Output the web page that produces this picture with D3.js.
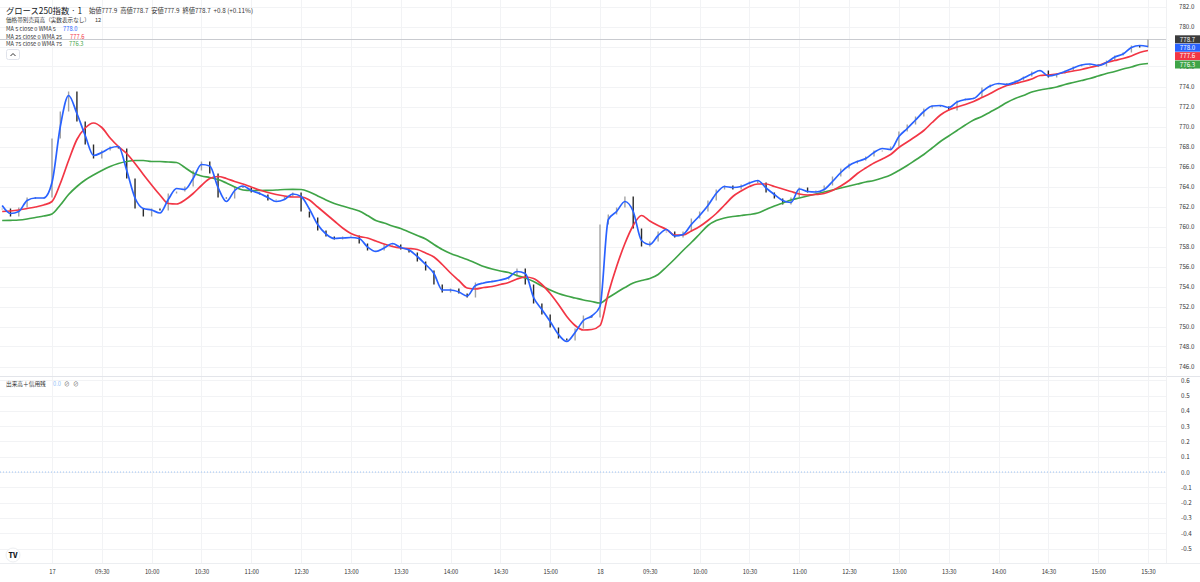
<!DOCTYPE html>
<html>
<head>
<meta charset="utf-8">
<script src="https://cdn.jsdelivr.net/npm/d3@7"></script>
<style>
body { margin: 0; background: #fff; }
svg text { font-family: "Noto Sans CJK JP", "Noto Sans", sans-serif; }
</style>
</head>
<body>
<div id="chart"></div>
<script>
// 5分ごとに読み取った値（0本目 = 前日15:00）
var barStep = 5;

var closes = [
  761.8, 761.0, 761.9, 762.9, 762.8, 762.9, 768.8, 771.5, 773.5, 770.5,
  768.2, 766.8, 767.6, 768.0, 767.8, 764.8, 761.8, 761.0, 761.8, 761.6,
  763.3, 763.5, 764.0, 765.6, 766.5, 765.3, 762.9, 762.8, 764.0, 763.9,
  763.4, 763.2, 762.6, 762.7, 763.0, 763.4, 761.5, 760.9, 759.6, 759.0,
  758.7, 759.0, 759.1, 758.3, 757.6, 757.6, 758.2, 758.2, 757.7, 757.4,
  756.5, 755.6, 754.2, 753.4, 753.8, 753.3, 752.9, 754.4, 754.4, 754.6,
  754.7, 755.0, 755.8, 754.2, 752.3, 751.2, 749.9, 748.8, 748.6, 749.8,
  751.1, 750.9, 760.2, 761.2, 761.9, 763.0, 759.8, 758.0, 758.5, 759.5,
  759.5, 758.9, 759.5, 760.8, 761.5, 762.6, 763.7, 764.1, 763.7, 764.2,
  764.5, 764.4, 763.4, 762.8, 762.2, 762.9, 763.9, 763.4, 763.6, 764.1,
  765.0, 765.8, 766.3, 766.6, 767.0, 767.6, 767.6, 768.0, 769.5, 770.2,
  771.0, 771.8, 772.1, 772.0, 771.6, 772.6, 772.8, 772.9, 773.9, 774.2,
  774.3, 774.2, 774.6, 775.0, 775.5, 775.6, 774.9, 775.3, 775.6, 776.0,
  776.2, 776.2, 776.0, 776.6, 777.1, 777.4, 778.1, 777.9, 778.7
];

var ma5 = [
  762.1, 761.3, 761.5, 762.6, 762.85, 762.85, 764.4, 770.0, 773.1, 771.3,
  769.1, 767.1, 767.4, 767.85, 768.0, 765.6, 762.85, 761.8, 761.65, 761.35,
  762.7, 763.8, 763.7, 764.8, 766.2, 766.05, 763.9, 762.5, 763.6, 764.05,
  763.6, 763.3, 762.9, 762.5, 762.7, 763.25, 763.0, 761.75, 760.2, 759.25,
  758.8, 758.85, 758.9, 758.8, 757.95, 757.5, 757.85, 758.3, 757.9, 757.65,
  757.0, 756.2, 755.3, 753.65, 753.65, 753.45, 753.05, 754.1, 754.35, 754.5,
  754.65, 754.9, 755.5, 755.3, 752.9, 751.7, 750.5, 749.2, 748.5, 749.4,
  750.6, 751.05, 752.0, 760.7, 761.5, 762.5, 761.5, 758.6, 758.2, 759.1,
  759.7, 759.05, 759.2, 760.2, 761.1, 762.1, 763.3, 764.0, 763.9, 764.0,
  764.35, 764.6, 763.85, 763.2, 762.6, 762.4, 763.75, 763.5, 763.45, 763.7,
  764.5, 765.4, 766.1, 766.5, 766.8, 767.4, 767.8, 767.7, 769.0, 769.8,
  770.65, 771.5, 772.05, 772.1, 771.9, 772.45, 772.7, 772.8, 773.5, 774.05,
  774.3, 774.2, 774.45, 774.85, 775.25, 775.6, 775.05, 775.2, 775.5, 775.85,
  776.15, 776.25, 776.1, 776.4, 776.95, 777.25, 777.9, 778.1, 778.0
];

var ma25 = [
  761.5, 761.55, 761.65, 761.8, 761.95, 762.15, 762.5, 764.3, 766.6, 768.7,
  769.85, 770.35, 769.9, 768.85, 768.0, 767.3, 766.3, 765.2, 764.15, 763.15,
  762.3, 762.25, 762.65, 763.3, 764.1, 764.8, 765.0, 764.8, 764.5, 764.25,
  763.95, 763.65, 763.4, 763.2, 763.05, 762.95, 762.95, 762.65, 761.95, 761.25,
  760.55, 759.85, 759.3, 759.0, 758.85, 758.55, 758.25, 758.0, 757.85, 757.8,
  757.7, 757.35, 756.95, 756.2, 755.35, 754.6, 753.85, 753.75, 753.9, 754.0,
  754.2, 754.4, 754.75, 754.95, 754.8, 754.2, 753.3, 752.2, 751.0, 750.1,
  749.65, 749.7, 750.1, 753.3, 756.0, 758.3, 760.1, 761.1, 760.55, 760.1,
  759.7, 759.15, 759.15, 759.55, 760.0, 760.6, 761.3, 762.15, 763.0, 763.55,
  764.0, 764.25, 764.25, 764.0, 763.75, 763.5, 763.25, 763.15, 763.2, 763.3,
  763.6, 764.05, 764.6, 765.3, 765.85, 766.35, 766.75, 767.2, 767.9, 768.45,
  769.0, 769.6, 770.4, 771.15, 771.65, 771.95, 772.2, 772.5, 772.9, 773.3,
  773.75, 774.1, 774.3, 774.5, 774.75, 775.1, 775.15, 775.25, 775.4, 775.55,
  775.7, 775.9, 776.1, 776.4, 776.6, 776.8, 777.05, 777.4, 777.6
];

var ma75 = [
  760.6, 760.62, 760.65, 760.75, 760.9, 761.05, 761.25, 762.15, 763.2, 764.0,
  764.65, 765.15, 765.6, 766.0, 766.3, 766.5, 766.6, 766.6, 766.5, 766.5,
  766.45, 766.4, 765.9, 765.35, 765.05, 764.9, 764.7, 764.35, 763.95, 763.65,
  763.6, 763.6, 763.62, 763.65, 763.7, 763.72, 763.7, 763.45, 763.05, 762.65,
  762.3, 762.05, 761.8, 761.55, 761.1, 760.6, 760.35, 760.05, 759.8, 759.45,
  759.1, 758.75, 758.2, 757.7, 757.3, 757.0, 756.7, 756.35, 756.0, 755.75,
  755.55, 755.4, 755.1, 754.85, 754.5, 754.05, 753.65, 753.3, 753.05, 752.85,
  752.65, 752.5, 752.35, 752.9, 753.4, 753.9, 754.35, 754.6, 754.8, 755.2,
  755.95, 756.75, 757.6, 758.4, 759.25, 760.1, 760.6, 760.85, 761.0, 761.1,
  761.2, 761.35, 761.7, 762.05, 762.35, 762.65, 762.85, 763.05, 763.25, 763.45,
  763.65, 763.85, 764.05, 764.25, 764.45, 764.6, 764.85, 765.15, 765.6, 766.1,
  766.65, 767.2, 767.85, 768.5, 769.05, 769.6, 770.15, 770.65, 771.0, 771.45,
  771.9, 772.4, 772.8, 773.1, 773.45, 773.65, 773.8, 773.95, 774.2, 774.4,
  774.6, 774.8, 775.05, 775.3, 775.5, 775.75, 775.95, 776.2, 776.3
];

var timeTickBars = [30, 60, 90, 120, 150, 180, 210, 240, 270, 300, 330,
                    360, 390, 420, 450, 480, 510, 540, 570, 600, 630, 660, 690];
var timeTickLabels = ["17", "09:30", "10:00", "10:30", "11:00", "12:30", "13:00", "13:30", "14:00", "14:30", "15:00",
                      "18", "09:30", "10:00", "10:30", "11:00", "12:30", "13:00", "13:30", "14:00", "14:30", "15:00", "15:30"];
var priceTicks = [746, 748, 750, 752, 754, 756, 758, 760, 762, 764, 766, 768, 770, 772, 774, 776, 778, 780, 782];
var subTicks = [0.6, 0.5, 0.4, 0.3, 0.2, 0.1, 0.0, -0.1, -0.2, -0.3, -0.4, -0.5];

var title = "グロース250指数 · 1";
var ohlcText = "始値777.9  高値778.7  安値777.9  終値778.7  +0.8 (+0.11%)";

var width = 1200;
var height = 582;
var plotRight = 1166;
var mainBottom = 376;
var subBottom = 563;

var colors = { up: "#a3a3a3", down: "#2b2b2b", ma5: "#2962ff", ma25: "#f23645", ma75: "#3fa447", last: "#3c3c3c" };

var svg = d3.select("#chart").append("svg")
    .attr("width", width)
    .attr("height", height);

svg.append("rect").attr("width", width).attr("height", height).attr("fill", "#fff");

// x: 本数 -> px
var xScale = d3.scaleLinear()
    .domain([30, 690])
    .range([52, 1148]);

var yScale = d3.scaleLinear()
    .domain([746, 782])
    .range([366.5, 6.5]);

var ySub = d3.scaleLinear()
    .domain([-0.5, 0.6])
    .range([548.5, 380.3]);

function barX(d, i) { return xScale(i * barStep); }

// グリッド
var grid = svg.append("g").attr("stroke", "#f2f3f5").attr("stroke-width", 1);
grid.selectAll(".vgrid").data(timeTickBars).enter().append("line")
    .attr("x1", function (d) { return Math.round(xScale(d)) + 0.5; })
    .attr("x2", function (d) { return Math.round(xScale(d)) + 0.5; })
    .attr("y1", 0).attr("y2", subBottom);
grid.selectAll(".hgrid").data(priceTicks).enter().append("line")
    .attr("x1", 0).attr("x2", plotRight)
    .attr("y1", function (d) { return Math.round(yScale(d)) + 0.5; })
    .attr("y2", function (d) { return Math.round(yScale(d)) + 0.5; });
grid.selectAll(".sgrid").data(subTicks).enter().append("line")
    .attr("x1", 0).attr("x2", plotRight)
    .attr("y1", function (d) { return Math.round(ySub(d)) + 0.5; })
    .attr("y2", function (d) { return Math.round(ySub(d)) + 0.5; });

// 枠線
svg.append("line").attr("x1", 0).attr("x2", width).attr("y1", mainBottom + 0.5).attr("y2", mainBottom + 0.5)
    .attr("stroke", "#e3e5ea");
svg.append("line").attr("x1", 0).attr("x2", width).attr("y1", subBottom + 0.5).attr("y2", subBottom + 0.5)
    .attr("stroke", "#eceef1");
svg.append("line").attr("x1", plotRight + 0.5).attr("x2", plotRight + 0.5).attr("y1", 0).attr("y2", subBottom)
    .attr("stroke", "#f0f1f3");

// 現在値ライン
var lastClose = closes[closes.length - 1];
svg.append("line")
    .attr("x1", 0).attr("x2", plotRight)
    .attr("y1", yScale(lastClose)).attr("y2", yScale(lastClose))
    .attr("stroke", "#c9cbd0").attr("stroke-width", 1);

// ローソク足
svg.append("g").selectAll("rect")
    .data(closes)
    .enter()
    .append("rect")
    .attr("x", function (d, i) { return barX(d, i) - 0.7; })
    .attr("width", 1.4)
    .attr("y", function (d, i) {
        var o = i > 0 ? closes[i - 1] : d;
        return yScale(Math.max(o, d));
    })
    .attr("height", function (d, i) {
        var o = i > 0 ? closes[i - 1] : d;
        return Math.max(1, Math.abs(yScale(o) - yScale(d)));
    })
    .attr("fill", function (d, i) {
        var o = i > 0 ? closes[i - 1] : d;
        return d >= o ? colors.up : colors.down;
    });

// 移動平均線
var line = d3.line()
    .x(barX)
    .y(function (d) { return yScale(d); })
    .curve(d3.curveMonotoneX);

[[ma75, colors.ma75], [ma25, colors.ma25], [ma5, colors.ma5]].forEach(function (s) {
    svg.append("path")
        .datum(s[0])
        .attr("fill", "none")
        .attr("stroke", s[1])
        .attr("stroke-width", 1.7)
        .attr("stroke-linejoin", "round")
        .attr("d", line);
});

// サブペインのゼロライン
svg.append("line")
    .attr("x1", 0).attr("x2", plotRight)
    .attr("y1", ySub(0)).attr("y2", ySub(0))
    .attr("stroke", "#9cc3f5").attr("stroke-width", 1)
    .attr("stroke-dasharray", "1,2");

// 価格軸
var yAxis = d3.axisRight(yScale)
    .tickValues(priceTicks)
    .tickSize(0)
    .tickPadding(13)
    .tickFormat(function (d) { return d.toFixed(1); });
var gy = svg.append("g").attr("transform", "translate(" + plotRight + ",0)").call(yAxis);
gy.select(".domain").remove();
gy.selectAll("text").attr("font-size", 6.2).attr("fill", "#333").attr("font-family", "Noto Sans, sans-serif");

var subAxis = d3.axisRight(ySub)
    .tickValues(subTicks)
    .tickSize(0)
    .tickPadding(15)
    .tickFormat(function (d) { return d.toFixed(1); });
var gs = svg.append("g").attr("transform", "translate(" + plotRight + ",0)").call(subAxis);
gs.select(".domain").remove();
gs.selectAll("text").attr("font-size", 6.2).attr("fill", "#333").attr("font-family", "Noto Sans, sans-serif");

// 時間軸
var xAxis = d3.axisBottom(xScale)
    .tickValues(timeTickBars)
    .tickSize(0)
    .tickPadding(7)
    .tickFormat(function (d, i) { return timeTickLabels[i]; });
var gx = svg.append("g").attr("transform", "translate(0," + subBottom + ")").call(xAxis);
gx.select(".domain").remove();
gx.selectAll("text").attr("font-size", 5.8).attr("fill", "#333").attr("font-family", "Noto Sans, sans-serif");

// 右端の値ラベル
var lastLabels = [
    { v: lastClose, c: colors.last },
    { v: ma5[ma5.length - 1], c: colors.ma5 },
    { v: ma25[ma25.length - 1], c: colors.ma25 },
    { v: ma75[ma75.length - 1], c: colors.ma75 }
];
var boxH = 8.4;
var prevY = -100;
lastLabels.forEach(function (d) {
    d.y = Math.max(yScale(d.v), prevY + boxH);
    prevY = d.y;
});
var lab = svg.append("g").selectAll("g").data(lastLabels).enter().append("g");
lab.append("rect")
    .attr("x", 1175).attr("width", 25)
    .attr("y", function (d) { return d.y - boxH / 2; })
    .attr("height", boxH - 0.4)
    .attr("fill", function (d) { return d.c; });
lab.append("text")
    .attr("x", 1187.5)
    .attr("y", function (d) { return d.y; })
    .attr("dy", "0.35em")
    .attr("text-anchor", "middle")
    .attr("font-size", 6.2)
    .attr("font-family", "Noto Sans, sans-serif")
    .attr("fill", "#fff")
    .text(function (d) { return d.v.toFixed(1); });

// 凡例
var legend = svg.append("g").attr("fill", "#333");
legend.append("text").attr("x", 6).attr("y", 13.5).attr("font-size", 8.3).attr("fill", "#131722").text(title);
legend.append("text").attr("x", 89).attr("y", 13).attr("font-size", 6.3).attr("xml:space", "preserve").text(ohlcText);
legend.append("text").attr("x", 6).attr("y", 21.5).attr("font-size", 5.6).text("価格帯別売買高（実数表示なし）");
legend.append("text").attr("x", 95).attr("y", 21.5).attr("font-size", 5.6).text("12");

var maRows = [
    { label: "MA 5 close 0 WMA 5", v: ma5[ma5.length - 1], c: colors.ma5, y: 30.5, vx: 63 },
    { label: "MA 25 close 0 WMA 25", v: ma25[ma25.length - 1], c: colors.ma25, y: 38.5, vx: 70 },
    { label: "MA 75 close 0 WMA 75", v: ma75[ma75.length - 1], c: colors.ma75, y: 45.5, vx: 69 }
];
maRows.forEach(function (r) {
    legend.append("text").attr("x", 6).attr("y", r.y).attr("font-size", 5.6).text(r.label);
    legend.append("text").attr("x", r.vx).attr("y", r.y).attr("font-size", 5.8).attr("fill", r.c).text(r.v.toFixed(1));
});

// 折りたたみボタン
svg.append("rect").attr("x", 6.5).attr("y", 49.5).attr("width", 13).attr("height", 10).attr("rx", 2)
    .attr("fill", "#fff").attr("stroke", "#e0e3eb");
svg.append("path").attr("d", "M10.5,56 L13,53.5 L15.5,56").attr("fill", "none").attr("stroke", "#333").attr("stroke-width", 1);

// サブペイン凡例
var subLegend = svg.append("g");
subLegend.append("text").attr("x", 6).attr("y", 386).attr("font-size", 5.7).attr("fill", "#333").text("出来高＋信用残");
subLegend.append("text").attr("x", 53).attr("y", 386).attr("font-size", 5.7).attr("fill", "#8fc0f7").text("0.0");
subLegend.append("text").attr("x", 64).attr("y", 386).attr("font-size", 5.7).attr("fill", "#555").text("⊘");
subLegend.append("text").attr("x", 73).attr("y", 386).attr("font-size", 5.7).attr("fill", "#555").text("⊘");

// ロゴ
svg.append("circle").attr("cx", 13).attr("cy", 555).attr("r", 7).attr("fill", "#fff").attr("stroke", "#eceef1");
svg.append("text").attr("x", 13).attr("y", 557.5).attr("text-anchor", "middle").attr("font-size", 7)
    .attr("font-weight", 900).attr("fill", "#131722").attr("font-family", "Noto Sans, sans-serif").text("TV");
</script>
</body>
</html>
